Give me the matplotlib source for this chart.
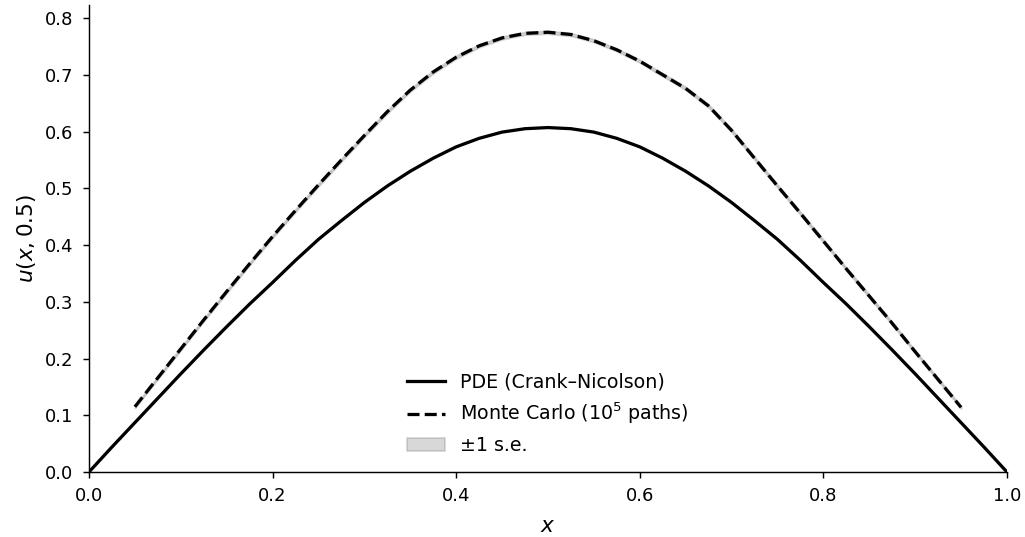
import matplotlib
matplotlib.use("Agg")
import matplotlib.pyplot as plt
import numpy as np

# PDE (Crank–Nicolson) solution at t = 0.5
x_pde = [0.000, 0.025, 0.050, 0.075, 0.100, 0.125, 0.150, 0.175, 0.200, 0.225,
         0.250, 0.275, 0.300, 0.325, 0.350, 0.375, 0.400, 0.425, 0.450, 0.475,
         0.500, 0.525, 0.550, 0.575, 0.600, 0.625, 0.650, 0.675, 0.700, 0.725,
         0.750, 0.775, 0.800, 0.825, 0.850, 0.875, 0.900, 0.925, 0.950, 0.975, 1.000]
u_pde = [0.000, 0.044, 0.087, 0.130, 0.173, 0.215, 0.256, 0.296, 0.334, 0.373,
         0.410, 0.443, 0.475, 0.504, 0.530, 0.553, 0.573, 0.588, 0.599, 0.605,
         0.607, 0.605, 0.599, 0.588, 0.573, 0.553, 0.530, 0.504, 0.475, 0.443,
         0.410, 0.373, 0.334, 0.296, 0.256, 0.215, 0.173, 0.130, 0.087, 0.044, 0.000]

# Monte Carlo estimate (10^5 paths)
x_mc = [0.050, 0.075, 0.100, 0.125, 0.150, 0.175, 0.200, 0.225, 0.250, 0.275,
        0.300, 0.325, 0.350, 0.375, 0.400, 0.425, 0.450, 0.475, 0.500, 0.525,
        0.550, 0.575, 0.600, 0.625, 0.650, 0.675, 0.700, 0.725, 0.750, 0.775,
        0.800, 0.825, 0.850, 0.875, 0.900, 0.925, 0.950]
u_mc = [0.115, 0.166, 0.217, 0.268, 0.318, 0.367, 0.415, 0.461, 0.506, 0.550,
        0.593, 0.635, 0.673, 0.705, 0.731, 0.751, 0.765, 0.773, 0.775, 0.771,
        0.760, 0.744, 0.724, 0.700, 0.676, 0.645, 0.602, 0.553, 0.504, 0.456,
        0.407, 0.358, 0.310, 0.262, 0.212, 0.163, 0.114]
se_mc = [0.0022, 0.0023, 0.0024, 0.0025, 0.0025, 0.0026, 0.0026, 0.0026, 0.0027, 0.0027,
         0.0027, 0.0027, 0.0027, 0.0027, 0.0027, 0.0026, 0.0026, 0.0026, 0.0026, 0.0026,
         0.0026, 0.0026, 0.0026, 0.0027, 0.0027, 0.0027, 0.0027, 0.0027, 0.0027, 0.0027,
         0.0026, 0.0026, 0.0026, 0.0025, 0.0024, 0.0023, 0.0022]

DPI = 130
fig = plt.figure(figsize=(1025 / DPI, 537 / DPI), dpi=DPI)
ax = fig.add_axes([0.0868, 0.121, 0.8956, 0.8697])

ax.plot(x_pde, u_pde, color="black", lw=1.8, label="PDE (Crank–Nicolson)")
ax.plot(x_mc, u_mc, color="black", lw=1.8, ls="--", label="Monte Carlo ($10^5$ paths)")
lo = np.array(u_mc) - np.array(se_mc)
hi = np.array(u_mc) + np.array(se_mc)
ax.fill_between(x_mc, lo, hi, color="gray", alpha=0.3, label="±1 s.e.")

ax.set_xlim(0, 1)
ax.set_ylim(0, 0.823)
ax.set_xticks([0.0, 0.2, 0.4, 0.6, 0.8, 1.0])
ax.set_yticks([0.0, 0.1, 0.2, 0.3, 0.4, 0.5, 0.6, 0.7, 0.8])
ax.tick_params(labelsize=10, pad=5)
ax.set_xlabel("$x$", fontsize=12, labelpad=6)
ax.set_ylabel("$u(x, 0.5)$", fontsize=12)
ax.spines["top"].set_visible(False)
ax.spines["right"].set_visible(False)

ax.legend(loc="lower center", frameon=False, fontsize=10.5)

fig.savefig("out.png", dpi=DPI)
